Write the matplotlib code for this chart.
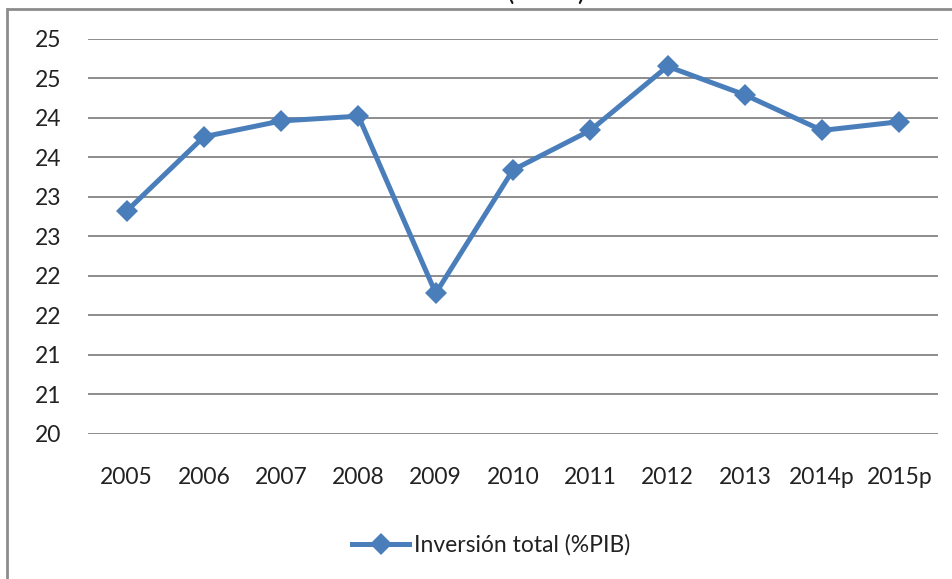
import matplotlib
matplotlib.use("Agg")
import matplotlib.pyplot as plt
from matplotlib.lines import Line2D
from matplotlib.ticker import FixedLocator, FuncFormatter

categories = ["2005", "2006", "2007", "2008", "2009", "2010", "2011", "2012", "2013", "2014p", "2015p"]
inversion = [22.82, 23.76, 23.96, 24.02, 21.78, 23.34, 23.84, 24.65, 24.29, 23.84, 23.95]
series_label = "Inversión total (%PIB)"
y_ticks = [20, 20.5, 21, 21.5, 22, 22.5, 23, 23.5, 24, 24.5, 25]

plt.rcParams['font.family'] = ['Lato', 'DejaVu Sans']

W, H = 953, 579
fig = plt.figure(figsize=(W / 100, H / 100), dpi=100)
ax = fig.add_axes([88 / W, 1 - 434 / H, 850 / W, (434 - 38.7) / H])

color = "#4A7EBB"
x = list(range(len(categories)))
ax.plot(x, inversion, color=color, lw=3.6, marker="D", markersize=11,
        markeredgewidth=0, label=series_label, solid_joinstyle="miter")

ax.set_xlim(-0.5, len(categories) - 0.5)
ax.set_ylim(20, 25)
ax.yaxis.set_major_locator(FixedLocator(y_ticks))
ax.yaxis.set_major_formatter(FuncFormatter(lambda v, p: "%d" % int(v + 0.5)))
ax.set_xticks(x)
ax.set_xticklabels(categories)
ax.grid(axis="y", color="#8c8c8c", lw=1.4)
ax.set_axisbelow(True)
for s in ax.spines.values():
    s.set_visible(False)
ax.tick_params(axis="both", length=0, labelsize=16.5, colors="#222222")
ax.tick_params(axis="y", pad=19)
ax.tick_params(axis="x", pad=24)

leg = fig.legend(loc="center", bbox_to_anchor=(491 / W, 1 - 545 / H), frameon=False,
                 fontsize=16.5, handlelength=2.5, handletextpad=0.2, labelcolor="#222222")

# chart frame (partially outside image)
fig.add_artist(Line2D([8 / W, 1.0], [1 - 8.5 / H, 1 - 8.5 / H], transform=fig.transFigure,
                      color="#8c8c8c", lw=2))
fig.add_artist(Line2D([7.5 / W, 7.5 / W], [0, 1 - 8.5 / H], transform=fig.transFigure,
                      color="#8c8c8c", lw=2))

# title, mostly cut off at the top edge
fig.text(546 / W, 1 + 0.5 / H, "(%PIB)", ha="center", va="baseline", fontsize=20, color="#111111")

fig.savefig("out.png", dpi=100)
